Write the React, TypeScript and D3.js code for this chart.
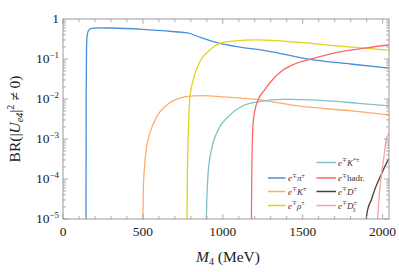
import * as d3 from "d3";

// BR values, [M4 in MeV, BR]
const ePi: [number, number][] = [
  [144, 1e-5], [145, 0.01], [147, 0.15], [150, 0.35], [160, 0.52], [180, 0.58],
  [220, 0.6], [300, 0.595], [500, 0.55], [700, 0.48], [780, 0.45], [856, 0.35],
  [981, 0.245], [1100, 0.2], [1273, 0.16], [1544, 0.098], [1800, 0.075], [2040, 0.059],
];
const eK: [number, number][] = [
  [500, 1e-5], [503, 6e-5], [512, 2.5e-4], [525, 7e-4], [544, 1.4e-3], [586, 3.6e-3],
  [648, 7e-3], [731, 0.0105], [815, 0.012], [877, 0.0122], [1000, 0.0113],
  [1231, 0.0095], [1481, 0.0066], [1794, 0.0051], [2040, 0.004],
];
const eRho: [number, number][] = [
  [776, 1e-5], [778, 1e-4], [781, 5e-4], [786, 2.5e-3], [794, 0.011], [815, 0.03],
  [856, 0.085], [918, 0.166], [981, 0.245], [1062, 0.28], [1212, 0.3], [1481, 0.26],
  [1731, 0.21], [2040, 0.166],
];
const eKstar: [number, number][] = [
  [897, 1e-5], [900, 3e-5], [908, 1.4e-4], [929, 5.4e-4], [971, 1.7e-3], [1033, 3.6e-3],
  [1117, 6.5e-3], [1221, 8.5e-3], [1375, 0.0098], [1500, 0.0097], [1688, 0.0089],
  [1850, 0.0078], [2040, 0.0067],
];
const eHadr: [number, number][] = [
  [1179, 1e-5], [1181, 1e-4], [1185, 1e-3], [1190, 2.5e-3], [1200, 5e-3], [1221, 0.0095],
  [1262, 0.017], [1300, 0.027], [1377, 0.053], [1450, 0.075], [1544, 0.098],
  [1650, 0.127], [1731, 0.15], [1900, 0.19], [2040, 0.224],
];
const eD: [number, number][] = [
  [1897, 1e-5], [1905, 1.6e-5], [1929, 3e-5], [1955, 6e-5], [1981, 1.05e-4],
  [2010, 1.9e-4], [2040, 3.3e-4],
];
const eDs: [number, number][] = [
  [1969, 1e-5], [1972, 1.6e-5], [1975, 2.5e-5], [1991, 1.15e-4], [2008, 3.5e-4],
  [2023, 1e-3], [2040, 1.4e-3],
];

const xTicks = [0, 500, 1000, 1500, 2000];
const yExps = [0, -1, -2, -3, -4, -5];

type Label = { base: string; sup?: string; sub?: string; upright?: boolean };
const series: { data: [number, number][]; color: string; label: Label }[] = [
  { data: ePi, color: "#4a8fd8", label: { base: "π", sup: "±" } },
  { data: eK, color: "#ffab6e", label: { base: "K", sup: "±" } },
  { data: eRho, color: "#e3d21c", label: { base: "ρ", sup: "±" } },
  { data: eKstar, color: "#7ec3c5", label: { base: "K", sup: "*±" } },
  { data: eHadr, color: "#ff6666", label: { base: "hadr.", upright: true } },
  { data: eD, color: "#5b3a22", label: { base: "D", sup: "±" } },
  { data: eDs, color: "#f3a2aa", label: { base: "D", sup: "±", sub: "S" } },
];

const SERIF = "'Liberation Serif', 'DejaVu Serif', serif";

export default function App() {
  const margin = { left: 63, right: 10, top: 19, bottom: 53 };
  const W = 399, H = 272;
  const x = d3.scaleLinear().domain([0, 2040]).range([margin.left, W - margin.right]);
  const y = d3.scaleLog().domain([1e-5, 1]).range([H - margin.bottom, margin.top]);
  const line = d3
    .line<[number, number]>()
    .x(d => x(d[0]))
    .y(d => y(d[1]))
    .curve(d3.curveMonotoneX);

  const [x0, x1] = x.range();
  const [yb, yt] = y.range();
  const frame = "#9a9a9a";

  const xMinor = d3.range(0, 2040, 100);
  const yMinor: number[] = [];
  for (let e = -5; e < 0; e++) for (let k = 1; k < 10; k++) yMinor.push(k * Math.pow(10, e));

  const legLeft = [0, 1, 2];
  const legRight = [3, 4, 5, 6];
  const rowY = [162.5, 178, 191.5, 205.5];

  const renderLabel = (l: Label) => (
    <>
      <tspan fontStyle="italic">e</tspan>
      <tspan fontSize="6" dy={-3.5}>∓</tspan>
      <tspan dy={3.5} fontStyle={l.upright ? "normal" : "italic"}>{l.base}</tspan>
      {l.sup ? (
        <tspan fontSize="6" dy={-3.5}>{l.sup}</tspan>
      ) : null}
      {l.sub ? (
        <tspan fontSize="5.5" fontStyle="italic" dx="-4" dy="6.5">{l.sub}</tspan>
      ) : null}
    </>
  );

  return (
    <svg width={W} height={H} style={{ position: "absolute", left: 0, top: 0, fontFamily: SERIF }}>
      <rect width={W} height={H} fill="white" />
      <defs>
        <clipPath id="plot">
          <rect x={x0} y={yt} width={x1 - x0} height={yb - yt} />
        </clipPath>
      </defs>

      <g clipPath="url(#plot)">
        {series.map((s, i) => (
          <path key={i} d={line(s.data) ?? ""} fill="none" stroke={s.color} strokeWidth={1.3} />
        ))}
      </g>

      {/* frame and ticks */}
      <rect x={x0} y={yt} width={x1 - x0} height={yb - yt} fill="none" stroke={frame} strokeWidth={1} />
      {xMinor.map(v => {
        const len = v % 500 === 0 ? 5 : 3;
        return (
          <g key={v} stroke={frame} strokeWidth={0.8}>
            <line x1={x(v)} x2={x(v)} y1={yb} y2={yb - len} />
            <line x1={x(v)} x2={x(v)} y1={yt} y2={yt + len} />
          </g>
        );
      })}
      {yMinor.map((v, i) => {
        const major = i % 9 === 0;
        const len = major ? 5 : 3;
        return (
          <g key={i} stroke={frame} strokeWidth={0.8}>
            <line x1={x0} x2={x0 + len} y1={y(v)} y2={y(v)} />
            <line x1={x1} x2={x1 - len} y1={y(v)} y2={y(v)} />
          </g>
        );
      })}

      {xTicks.map(v => (
        <text key={v} x={x(v)} y={yb + 17} textAnchor="middle" fontSize={13.5} fill="#222">
          {v}
        </text>
      ))}
      {yExps.map(e => (
        <text key={e} x={x0 - 4} y={y(Math.pow(10, e)) + 4} textAnchor="end" fontSize={13.5} fill="#222">
          {e === 0 ? (
            "1"
          ) : (
            <>
              10<tspan fontSize={9} dy={-5}>−{-e}</tspan>
            </>
          )}
        </text>
      ))}

      {/* axis titles */}
      <text x={(x0 + x1) / 2 + 2} y={H - 10} textAnchor="middle" fontSize={15.5} fill="#222">
        <tspan fontStyle="italic">M</tspan>
        <tspan fontSize={10} dy={3}>4</tspan>
        <tspan dy={-3}> (MeV)</tspan>
      </text>
      <text
        transform={`translate(20,${(yt + yb) / 2}) rotate(-90)`}
        textAnchor="middle"
        fontSize={15.5}
        fill="#222"
      >
        BR(|<tspan fontStyle="italic">U</tspan>
        <tspan fontSize={10} dy={3} fontStyle="italic">e4</tspan>
        <tspan dy={-3}>|</tspan>
        <tspan fontSize={10} dy={-6}>2</tspan>
        <tspan dy={6}> ≠ 0)</tspan>
      </text>

      {/* legend */}
      {legLeft.map((si, r) => (
        <g key={si}>
          <line x1={268} x2={285.5} y1={rowY[r + 1]} y2={rowY[r + 1]} stroke={series[si].color} strokeWidth={1.5} />
          <text x={288} y={rowY[r + 1] + 3} fontSize={9} fill="#333">
            {renderLabel(series[si].label)}
          </text>
        </g>
      ))}
      {legRight.map((si, r) => (
        <g key={si}>
          <line x1={316.5} x2={336} y1={rowY[r]} y2={rowY[r]} stroke={series[si].color} strokeWidth={1.5} />
          <text x={338} y={rowY[r] + 3} fontSize={9} fill="#333">
            {renderLabel(series[si].label)}
          </text>
        </g>
      ))}
    </svg>
  );
}
